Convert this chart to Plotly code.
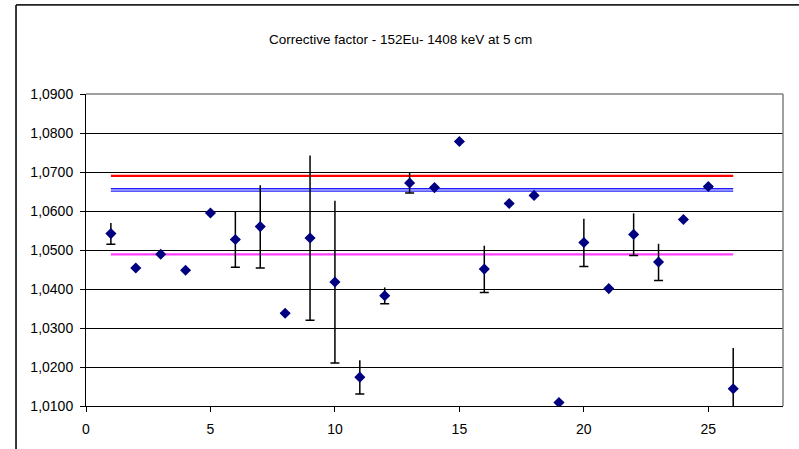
import plotly.graph_objects as go

# ---- data ----
run = list(range(1, 27))
factor = [1.0542, 1.0454, 1.0489, 1.0448, 1.0595, 1.0527, 1.0560, 1.0338, 1.0531, 1.0418,
          1.0174, 1.0383, 1.0672, 1.0660, 1.0778, 1.0451, 1.0619, 1.0640, 1.0109, 1.0519,
          1.0401, 1.0540, 1.0469, 1.0578, 1.0663, 1.0144]
err = [0.0027, None, None, None, None, 0.0071, 0.0106, None, 0.0211, 0.0208,
       0.0043, 0.0021, 0.0026, None, None, 0.0060, None, None, None, 0.0061,
       None, 0.0054, 0.0047, None, 0.0003, 0.0105]
ref_span = [1, 26]
red_level = 1.0690
blue_levels = [1.0657, 1.0651]
magenta_level = 1.0489
x_ticks = [0, 5, 10, 15, 20, 25]
title_text = "Corrective factor - 152Eu- 1408 keV at 5 cm"

FONT = "Liberation Sans, Arial, sans-serif"

fig = go.Figure()

# reference lines
fig.add_trace(go.Scatter(x=ref_span, y=[red_level] * 2, mode="lines",
                         line=dict(color="#FF0000", width=2.2), showlegend=False, hoverinfo="skip"))
for lv in blue_levels:
    fig.add_trace(go.Scatter(x=ref_span, y=[lv] * 2, mode="lines",
                             line=dict(color="#1F1FFF", width=1.3), showlegend=False, hoverinfo="skip"))
fig.add_trace(go.Scatter(x=ref_span, y=[magenta_level] * 2, mode="lines",
                         line=dict(color="#FF40FF", width=2.2), showlegend=False, hoverinfo="skip"))

# plus error (no cap)
fig.add_trace(go.Scatter(x=run, y=factor, mode="markers", marker=dict(size=1, opacity=0),
                         error_y=dict(type="data", symmetric=False, array=err,
                                      arrayminus=[None] * len(err), color="black",
                                      thickness=1.5, width=0),
                         showlegend=False, hoverinfo="skip"))
# minus error (with cap)
fig.add_trace(go.Scatter(x=run, y=factor, mode="markers", marker=dict(size=1, opacity=0),
                         error_y=dict(type="data", symmetric=False, array=[None] * len(err),
                                      arrayminus=err, color="black",
                                      thickness=1.5, width=4.5),
                         showlegend=False, hoverinfo="skip"))
# points
fig.add_trace(go.Scatter(x=run, y=factor, mode="markers",
                         marker=dict(symbol="diamond", size=8.5, color="#000080"),
                         showlegend=False))

shapes = [
    # plot area top and right border (gray)
    dict(type="line", xref="paper", yref="paper", x0=0, x1=1, y0=1, y1=1,
         line=dict(color="#808080", width=1.5)),
    dict(type="line", xref="paper", yref="paper", x0=1, x1=1, y0=0, y1=1,
         line=dict(color="#808080", width=1.5)),
    # outer chart frame (left and top, cut by the picture)
    dict(type="line", xref="paper", yref="paper", x0=-0.1004, x1=-0.1004, y0=-0.3, y1=1.2855,
         line=dict(color="#222222", width=1.8)),
    dict(type="line", xref="paper", yref="paper", x0=-0.1004, x1=1.1, y0=1.2855, y1=1.2855,
         line=dict(color="#222222", width=1.8)),
]

fig.update_layout(
    width=799, height=449,
    margin=dict(l=86, r=16, t=94, b=43),
    paper_bgcolor="white", plot_bgcolor="white",
    separators=",.",
    font=dict(family=FONT, size=14, color="black"),
    shapes=shapes,
    annotations=[dict(text=title_text, xref="paper", yref="paper",
                      x=(400 - 86) / 697, y=(405.7 - 40) / 311.7,
                      xanchor="center", yanchor="middle", showarrow=False,
                      font=dict(family=FONT, size=13.5, color="black"))],
    xaxis=dict(range=[0, 28], tickvals=x_ticks, ticks="outside", ticklen=5,
               tickcolor="black", showline=True, linecolor="black", linewidth=1,
               ticklabelstandoff=5,
               showgrid=False, zeroline=False, fixedrange=True),
    yaxis=dict(range=[1.01, 1.09], dtick=0.01, tick0=1.01, tickformat=".4f",
               ticks="outside", ticklen=5, tickcolor="black",
               showline=True, linecolor="black", linewidth=1,
               ticklabelstandoff=4,
               showgrid=True, gridcolor="black", gridwidth=1, zeroline=False,
               fixedrange=True),
)

fig.write_html("out.html")
